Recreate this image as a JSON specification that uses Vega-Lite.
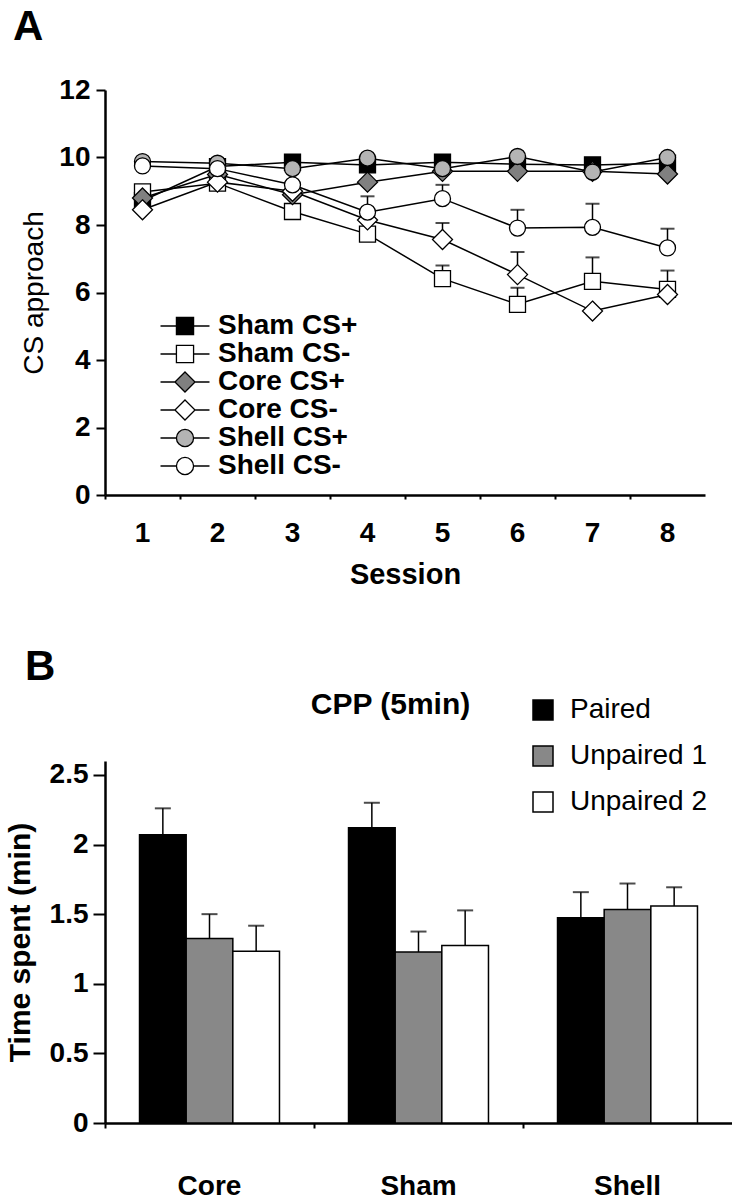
{
  "$schema": "https://vega.github.io/schema/vega-lite/v6.json",
  "padding": {"left": 5, "top": 6, "right": 0, "bottom": 0},
  "background": "white",
  "config": {
    "font": "Liberation Sans",
    "view": {"stroke": null},
    "axis": {
      "grid": false,
      "domainColor": "black",
      "domainWidth": 2.5,
      "tickColor": "black",
      "tickWidth": 2,
      "labelColor": "black",
      "titleColor": "black",
      "labelFont": "Liberation Sans",
      "titleFont": "Liberation Sans"
    },
    "legend": {"labelColor": "black", "titleColor": "black"}
  },
  "datasets": {
    "cs": [
      {"series": "Sham CS+", "session": 1, "value": 8.72},
      {"series": "Sham CS+", "session": 2, "value": 9.73},
      {"series": "Sham CS+", "session": 3, "value": 9.86},
      {"series": "Sham CS+", "session": 4, "value": 9.78},
      {"series": "Sham CS+", "session": 5, "value": 9.86},
      {"series": "Sham CS+", "session": 6, "value": 9.8},
      {"series": "Sham CS+", "session": 7, "value": 9.78},
      {"series": "Sham CS+", "session": 8, "value": 9.83},
      {"series": "Sham CS-", "session": 1, "value": 8.98, "hi": 9.15},
      {"series": "Sham CS-", "session": 2, "value": 9.24, "hi": 9.32},
      {"series": "Sham CS-", "session": 3, "value": 8.4, "hi": 8.47},
      {"series": "Sham CS-", "session": 4, "value": 7.73, "hi": 7.8},
      {"series": "Sham CS-", "session": 5, "value": 6.41, "hi": 6.8},
      {"series": "Sham CS-", "session": 6, "value": 5.65, "hi": 6.14},
      {"series": "Sham CS-", "session": 7, "value": 6.33, "hi": 7.04},
      {"series": "Sham CS-", "session": 8, "value": 6.09, "hi": 6.65},
      {"series": "Core CS+", "session": 1, "value": 8.8},
      {"series": "Core CS+", "session": 2, "value": 9.5},
      {"series": "Core CS+", "session": 3, "value": 8.9},
      {"series": "Core CS+", "session": 4, "value": 9.27},
      {"series": "Core CS+", "session": 5, "value": 9.59},
      {"series": "Core CS+", "session": 6, "value": 9.59},
      {"series": "Core CS+", "session": 7, "value": 9.59},
      {"series": "Core CS+", "session": 8, "value": 9.51},
      {"series": "Core CS-", "session": 1, "value": 8.45},
      {"series": "Core CS-", "session": 2, "value": 9.27},
      {"series": "Core CS-", "session": 3, "value": 9.0},
      {"series": "Core CS-", "session": 4, "value": 8.15},
      {"series": "Core CS-", "session": 5, "value": 7.57, "hi": 8.06},
      {"series": "Core CS-", "session": 6, "value": 6.53, "hi": 7.2},
      {"series": "Core CS-", "session": 7, "value": 5.45},
      {"series": "Core CS-", "session": 8, "value": 5.94},
      {"series": "Shell CS+", "session": 1, "value": 9.88},
      {"series": "Shell CS+", "session": 2, "value": 9.83},
      {"series": "Shell CS+", "session": 3, "value": 9.67},
      {"series": "Shell CS+", "session": 4, "value": 9.98},
      {"series": "Shell CS+", "session": 5, "value": 9.67},
      {"series": "Shell CS+", "session": 6, "value": 10.03},
      {"series": "Shell CS+", "session": 7, "value": 9.57},
      {"series": "Shell CS+", "session": 8, "value": 10.0},
      {"series": "Shell CS-", "session": 1, "value": 9.75},
      {"series": "Shell CS-", "session": 2, "value": 9.67, "hi": 9.95},
      {"series": "Shell CS-", "session": 3, "value": 9.19},
      {"series": "Shell CS-", "session": 4, "value": 8.38, "hi": 8.85},
      {"series": "Shell CS-", "session": 5, "value": 8.78, "hi": 9.19},
      {"series": "Shell CS-", "session": 6, "value": 7.91, "hi": 8.45},
      {"series": "Shell CS-", "session": 7, "value": 7.93, "hi": 8.63},
      {"series": "Shell CS-", "session": 8, "value": 7.32, "hi": 7.89}
    ],
    "cpp": [
      {"region": "Core", "cond": "Paired", "value": 2.07, "hi": 2.26},
      {"region": "Core", "cond": "Unpaired 1", "value": 1.325, "hi": 1.5},
      {"region": "Core", "cond": "Unpaired 2", "value": 1.233, "hi": 1.417},
      {"region": "Sham", "cond": "Paired", "value": 2.12, "hi": 2.3},
      {"region": "Sham", "cond": "Unpaired 1", "value": 1.228, "hi": 1.375},
      {"region": "Sham", "cond": "Unpaired 2", "value": 1.274, "hi": 1.527},
      {"region": "Shell", "cond": "Paired", "value": 1.475, "hi": 1.658},
      {"region": "Shell", "cond": "Unpaired 1", "value": 1.534, "hi": 1.72},
      {"region": "Shell", "cond": "Unpaired 2", "value": 1.558, "hi": 1.693}
    ]
  },
  "spacing": 56,
  "vconcat": [
    {
      "title": {"text": "A", "anchor": "start", "frame": "group", "dx": -92, "offset": 27, "fontSize": 42, "fontWeight": "bold", "color": "black"},
      "width": 600,
      "height": 405,
      "data": {"name": "cs"},
      "encoding": {
        "x": {
          "field": "session", "type": "ordinal",
          "scale": {"paddingInner": 0, "paddingOuter": 0},
          "axis": {"title": "Session", "labelAngle": 0, "bandPosition": 0, "tickSize": 4, "labelPadding": 20, "labelFontSize": 28, "labelFontWeight": "bold", "titleFontSize": 29, "titleFontWeight": "bold", "titlePadding": 13}
        }
      },
      "layer": [
        {
          "mark": {"type": "line", "color": "black", "strokeWidth": 1.5},
          "encoding": {
            "y": {"field": "value", "type": "quantitative", "scale": {"domain": [0, 12]},
              "axis": {"title": "CS approach", "values": [0, 2, 4, 6, 8, 10, 12], "tickSize": 9, "labelPadding": 6, "labelFontSize": 28, "labelFontWeight": "bold", "titleFontSize": 28, "titleFontWeight": "normal", "titlePadding": 10}},
            "detail": {"field": "series"}
          }
        },
        {
          "transform": [{"filter": "isValid(datum.hi)"}],
          "mark": {"type": "rule", "color": "black", "strokeWidth": 1.5},
          "encoding": {"y": {"field": "value", "type": "quantitative"}, "y2": {"field": "hi"}}
        },
        {
          "transform": [{"filter": "isValid(datum.hi)"}],
          "mark": {"type": "tick", "color": "black", "thickness": 2, "size": 14, "orient": "horizontal"},
          "encoding": {"y": {"field": "hi", "type": "quantitative"}}
        },
        {
          "mark": {"type": "point", "filled": true, "size": 256, "strokeWidth": 1.3, "opacity": 1},
          "encoding": {
            "y": {"field": "value", "type": "quantitative"},
            "shape": {"field": "series", "type": "nominal", "legend": null,
              "scale": {"domain": ["Sham CS+", "Sham CS-", "Core CS+", "Core CS-", "Shell CS+", "Shell CS-"],
                "range": ["square", "square", "M0,-1.25L1.25,0L0,1.25L-1.25,0Z", "M0,-1.25L1.25,0L0,1.25L-1.25,0Z", "circle", "circle"]}},
            "fill": {"field": "series", "type": "nominal", "legend": null,
              "scale": {"domain": ["Sham CS+", "Sham CS-", "Core CS+", "Core CS-", "Shell CS+", "Shell CS-"],
                "range": ["#000000", "#ffffff", "#808080", "#ffffff", "#b4b4b4", "#ffffff"]}},
            "stroke": {"field": "series", "type": "nominal", "legend": null,
              "scale": {"domain": ["Sham CS+", "Sham CS-", "Core CS+", "Core CS-", "Shell CS+", "Shell CS-"],
                "range": ["#000000", "#000000", "#000000", "#000000", "#000000", "#000000"]}}
          }
        },
        {
          "transform": [{"filter": "datum.session > 100"}],
          "mark": {"type": "point", "filled": true, "size": 600, "strokeWidth": 1.3, "opacity": 1},
          "encoding": {
            "y": {"field": "value", "type": "quantitative"},
            "shape": {"field": "series", "type": "nominal",
              "scale": {"domain": ["Sham CS+", "Sham CS-", "Core CS+", "Core CS-", "Shell CS+", "Shell CS-"],
                "range": [
                  "M-2,0H-0.7M0.7,0H2M-0.7,-0.7H0.7V0.7H-0.7Z",
                  "M-2,0H-0.7M0.7,0H2M-0.7,-0.7H0.7V0.7H-0.7Z",
                  "M-2,0H-0.82M0.82,0H2M0,-0.82L0.82,0L0,0.82L-0.82,0Z",
                  "M-2,0H-0.82M0.82,0H2M0,-0.82L0.82,0L0,0.82L-0.82,0Z",
                  "M-2,0H-0.7M0.7,0H2M-0.7,0A0.7,0.7,0,1,0,0.7,0A0.7,0.7,0,1,0,-0.7,0Z",
                  "M-2,0H-0.7M0.7,0H2M-0.7,0A0.7,0.7,0,1,0,0.7,0A0.7,0.7,0,1,0,-0.7,0Z"
                ]},
              "legend": {"title": null, "orient": "none", "legendX": 66, "legendY": 222, "padding": 0, "symbolSize": 600, "symbolStrokeWidth": 1.3, "labelFontSize": 28, "labelFontWeight": "bold", "labelOffset": 19, "rowPadding": -6.5, "labelLimit": 300}},
            "fill": {"field": "series", "type": "nominal",
              "scale": {"domain": ["Sham CS+", "Sham CS-", "Core CS+", "Core CS-", "Shell CS+", "Shell CS-"],
                "range": ["#000000", "#ffffff", "#808080", "#ffffff", "#b4b4b4", "#ffffff"]},
              "legend": {"title": null, "orient": "none", "legendX": 66, "legendY": 222, "padding": 0, "symbolSize": 600, "symbolStrokeWidth": 1.3, "labelFontSize": 28, "labelFontWeight": "bold", "labelOffset": 19, "rowPadding": -6.5, "labelLimit": 300}},
            "stroke": {"field": "series", "type": "nominal",
              "scale": {"domain": ["Sham CS+", "Sham CS-", "Core CS+", "Core CS-", "Shell CS+", "Shell CS-"],
                "range": ["#000000", "#000000", "#000000", "#000000", "#000000", "#000000"]},
              "legend": {"title": null, "orient": "none", "legendX": 66, "legendY": 222, "padding": 0, "symbolSize": 600, "symbolStrokeWidth": 1.3, "labelFontSize": 28, "labelFontWeight": "bold", "labelOffset": 19, "rowPadding": -6.5, "labelLimit": 300}}
          }
        }
      ],
      "resolve": {"scale": {"shape": "independent", "fill": "independent", "stroke": "independent"}}
    },
    {
      "title": {"text": "B", "anchor": "start", "frame": "group", "dx": -80, "offset": 1, "fontSize": 42, "fontWeight": "bold", "color": "black"},
      "vconcat": [
        {
          "title": {"text": "CPP (5min)", "anchor": "middle", "frame": "group", "dx": -28, "offset": 41, "fontSize": 30, "fontWeight": "bold", "color": "black"},
          "width": 627,
          "height": 362,
          "data": {"name": "cpp"},
          "encoding": {
            "x": {"field": "region", "type": "nominal", "scale": {"paddingInner": 0, "paddingOuter": 0},
              "axis": {"title": null, "labelAngle": 0, "bandPosition": 0, "tickSize": 5, "labelPadding": 44, "labelFontSize": 28, "labelFontWeight": "bold", "labelDx": -7}},
            "xOffset": {"field": "cond", "type": "nominal", "scale": {"paddingInner": 0, "paddingOuter": 0.74}}
          },
          "layer": [
            {
              "mark": {"type": "rule", "color": "black", "strokeWidth": 1.5},
              "encoding": {"y": {"field": "value", "type": "quantitative"}, "y2": {"field": "hi"}}
            },
            {
              "mark": {"type": "tick", "color": "black", "thickness": 2, "size": 16},
              "encoding": {"y": {"field": "hi", "type": "quantitative"}}
            },
            {
              "mark": {"type": "bar", "stroke": "black", "strokeWidth": 1.5},
              "encoding": {
                "y": {"field": "value", "type": "quantitative", "scale": {"domain": [0, 2.5]},
                  "axis": {"title": "Time spent (min)", "values": [0, 0.5, 1, 1.5, 2, 2.5], "format": "~g", "tickSize": 12, "labelPadding": 5, "labelFontSize": 28, "labelFontWeight": "bold", "titleFontSize": 30, "titleFontWeight": "bold", "titlePadding": 14}},
                "fill": {"field": "cond", "type": "nominal",
                  "scale": {"domain": ["Paired", "Unpaired 1", "Unpaired 2"], "range": ["#000000", "#888888", "#ffffff"]},
                  "legend": {"title": null, "orient": "none", "legendX": 424, "legendY": 606, "padding": 0, "symbolType": "square", "symbolSize": 400, "symbolStrokeColor": "black", "symbolStrokeWidth": 1.5, "labelFontSize": 28, "labelFontWeight": "normal", "labelOffset": 13, "rowPadding": 18, "labelLimit": 300}}
              }
            }
          ]
        }
      ]
    }
  ]
}
